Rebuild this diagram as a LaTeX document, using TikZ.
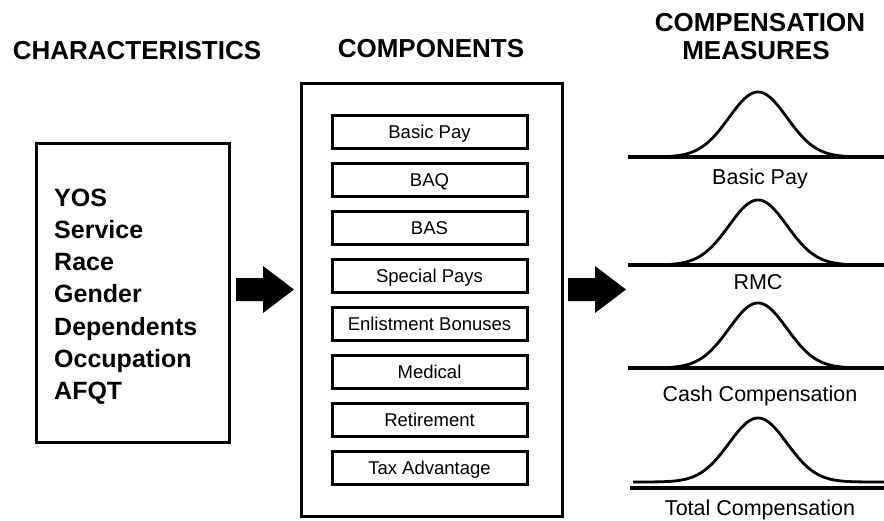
\documentclass[tikz,border=0pt]{standalone}
\usepackage{fontspec}
\setmainfont{Liberation Sans}
\begin{document}
\begin{tikzpicture}[x=1pt,y=-1pt,
  head/.style={font=\fontsize{26}{28}\selectfont\bfseries, anchor=base, inner sep=0},
  item/.style={font=\fontsize{25}{27}\selectfont\bfseries, anchor=base west, inner sep=0},
  comp/.style={draw, line width=3pt, minimum width=195pt, minimum height=33pt,
    text height=13.3pt, text depth=0pt, inner sep=0,
    font=\fontsize{18.5}{20}\selectfont},
  meas/.style={font=\fontsize{21.5}{23}\selectfont, anchor=base, inner sep=0},
  bigbox/.style={draw, line width=3pt, inner sep=0},
  curve/.style={line width=2.8pt},
  axisline/.style={line width=3.3pt},
  fatarrow/.style={fill=black},
]
\useasboundingbox (0,0) rectangle (884,520);

% headings
\node[head] (h1) at (137,59) {CHARACTERISTICS};
\node[head] (h2) at (431,57) {COMPONENTS};
\node[head] (h3) at (760,31) {COMPENSATION};
\node[head] (h4) at (756,59) {MEASURES};

% characteristics box
\node[bigbox, minimum width=193pt, minimum height=299pt, anchor=north west] (charbox) at (35,142) {};
\foreach \t [count=\i from 0] in {YOS,Service,Race,Gender,Dependents,Occupation,AFQT}
  \node[item] (ch\i) at (54,{206+32.3*\i}) {\t};

% components box
\node[bigbox, minimum width=261pt, minimum height=433pt, anchor=north west] (compbox) at (300,82) {};
\foreach \t [count=\i from 0] in {Basic Pay,BAQ,BAS,Special Pays,Enlistment Bonuses,Medical,Retirement,Tax Advantage}
  \node[comp] (c\i) at (429.5,{131.5+48*\i}) {\t};

% fat arrows
\coordinate (a1) at (236,289.5);
\coordinate (a2) at (568,289.5);
\foreach \a in {a1,a2}
  \fill[fatarrow] (\a) ++(0,-11.5) -- ++(27,0) -- ++(0,-12) -- ++(31,23.5) -- ++(-31,23.5) -- ++(0,-12) -- ++(-27,0) -- cycle;

% distributions
\foreach \b in {157,265,368}{
  \draw[axisline] (628,\b) -- (884,\b);
  \draw[curve] plot[domain=630:884, samples=160, smooth]
    (\x,{\b-65*exp(-((\x-758)/29)*((\x-758)/29)/2)});
}
\draw[curve] plot[domain=633:884, samples=160, smooth]
    (\x,{482-64*exp(-((\x-758)/29)*((\x-758)/29)/2)});
\draw[axisline] (630,488) -- (884,488);

\node[meas] (m1) at (760,184) {Basic Pay};
\node[meas] (m2) at (758,289) {RMC};
\node[meas] (m3) at (760,401) {Cash Compensation};
\node[meas] (m4) at (760,515) {Total Compensation};
\end{tikzpicture}
\end{document}
